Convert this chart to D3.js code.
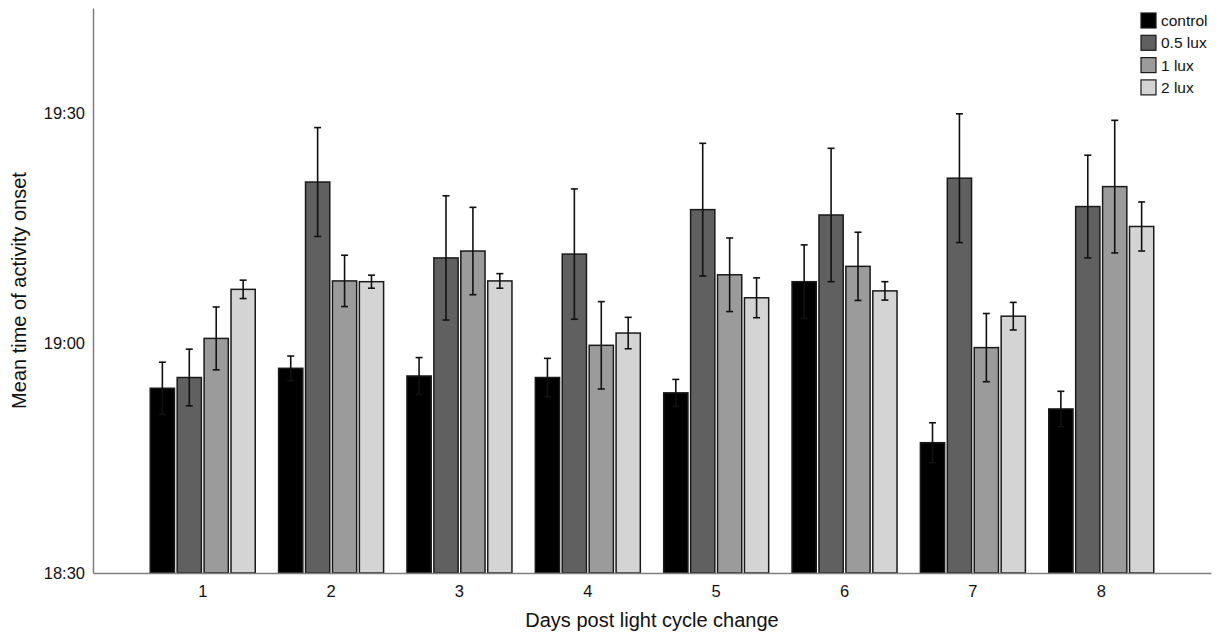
<!DOCTYPE html>
<html>
<head>
<meta charset="utf-8">
<script src="https://cdn.jsdelivr.net/npm/d3@7"></script>
<style>
  body { margin: 0; background: #fff; }
  svg { font-family: "Liberation Sans", Arial, sans-serif; }
</style>
</head>
<body>
<div id="chart"></div>
<script>
// days on the x axis
var days = ["1", "2", "3", "4", "5", "6", "7", "8"];
var groups = ["control", "0.5 lux", "1 lux", "2 lux"];

// mean onset, minutes after 18:00
var control = [54.1, 56.7, 55.7, 55.5, 53.5, 68.0, 47.0, 51.4];
var lux05   = [55.5, 81.0, 71.1, 71.6, 77.4, 76.7, 81.5, 77.8];
var lux1    = [60.6, 68.1, 72.0, 59.7, 68.9, 70.0, 59.4, 80.4];
var lux2    = [67.0, 68.0, 68.1, 61.3, 65.9, 66.8, 63.5, 75.2];

// error (minutes)
var controlErr = [3.4, 1.6, 2.4, 2.5, 1.75, 4.8, 2.6, 2.3];
var lux05Err   = [3.7, 7.1, 8.1, 8.5, 8.65, 8.7, 8.4, 6.7];
var lux1Err    = [4.1, 3.35, 5.7, 5.7, 4.8, 4.45, 4.45, 8.65];
var lux2Err    = [1.2, 0.85, 0.95, 2.05, 2.6, 1.2, 1.8, 3.2];

var yTicks = ["18:30", "19:00", "19:30"];

var means = [control, lux05, lux1, lux2];
var errs = [controlErr, lux05Err, lux1Err, lux2Err];
var colors = ["#000000", "#606060", "#9b9b9b", "#d4d4d4"];

var width = 1219, height = 639;
var plot = { left: 93, right: 1211, top: 8, bottom: 573 };

function toMin(s) {
    var p = s.split(":");
    return (+p[0] - 18) * 60 + (+p[1]);
}

var data = [];
days.forEach(function (d, i) {
    groups.forEach(function (g, j) {
        data.push({ day: d, group: g, value: means[j][i], err: errs[j][i], color: colors[j] });
    });
});

var svg = d3.select("#chart").append("svg")
    .attr("width", width)
    .attr("height", height);

var x0 = d3.scaleBand().domain(days).range([plot.left, plot.right])
    .paddingInner(0.182).paddingOuter(0.446);
var x1 = d3.scaleBand().domain(groups).range([0, x0.bandwidth()])
    .paddingInner(0.1);
var y = d3.scaleLinear().domain([30, 103.7]).range([plot.bottom, plot.top]);

// bars
svg.selectAll("rect.bar")
    .data(data)
    .enter().append("rect")
    .attr("class", "bar")
    .attr("x", function (d) { return x0(d.day) + x1(d.group); })
    .attr("y", function (d) { return y(d.value); })
    .attr("width", x1.bandwidth())
    .attr("height", function (d) { return y(30) - y(d.value); })
    .attr("fill", function (d) { return d.color; })
    .attr("stroke", "#1a1a1a")
    .attr("stroke-width", 1.5);

// error bars
var eb = svg.selectAll("g.err")
    .data(data)
    .enter().append("g")
    .attr("class", "err")
    .attr("stroke", "#111")
    .attr("stroke-width", 1.6);

function cx(d) { return x0(d.day) + x1(d.group) + x1.bandwidth() / 2; }

eb.append("line")
    .attr("x1", cx)
    .attr("x2", cx)
    .attr("y1", function (d) { return y(d.value - d.err); })
    .attr("y2", function (d) { return y(d.value + d.err); });

[1, -1].forEach(function (s) {
    eb.append("line")
        .attr("x1", function (d) { return cx(d) - 3.5; })
        .attr("x2", function (d) { return cx(d) + 3.5; })
        .attr("y1", function (d) { return y(d.value + s * d.err); })
        .attr("y2", function (d) { return y(d.value + s * d.err); });
});

// axes
var xAxis = svg.append("g")
    .attr("transform", "translate(0," + plot.bottom + ")")
    .call(d3.axisBottom(x0).tickSize(0).tickPadding(12));
xAxis.select(".domain").attr("stroke", "#7f7f7f").attr("stroke-width", 1.5);
xAxis.selectAll("text").attr("font-size", "16.5px").attr("fill", "#111");

var yAxis = svg.append("g")
    .attr("transform", "translate(" + plot.left + ",0)")
    .call(d3.axisLeft(y)
        .tickValues(yTicks.map(toMin))
        .tickFormat(function (v, i) { return yTicks[i]; })
        .tickSize(0).tickPadding(8));
yAxis.select(".domain").attr("stroke", "#7f7f7f").attr("stroke-width", 1.5);
yAxis.selectAll("text").attr("font-size", "16.5px").attr("fill", "#111");

// axis titles
svg.append("text")
    .attr("x", (plot.left + plot.right) / 2)
    .attr("y", 627)
    .attr("text-anchor", "middle")
    .attr("font-size", "20px")
    .attr("fill", "#111")
    .text("Days post light cycle change");

svg.append("text")
    .attr("transform", "translate(26," + (plot.top + plot.bottom) / 2 + ") rotate(-90)")
    .attr("text-anchor", "middle")
    .attr("font-size", "20px")
    .attr("fill", "#111")
    .text("Mean time of activity onset");

// legend
var legend = svg.selectAll("g.legend")
    .data(groups)
    .enter().append("g")
    .attr("class", "legend")
    .attr("transform", function (d, i) { return "translate(1141," + (13 + i * 22.3) + ")"; });

legend.append("rect")
    .attr("width", 15)
    .attr("height", 15)
    .attr("fill", function (d, i) { return colors[i]; })
    .attr("stroke", "#1a1a1a")
    .attr("stroke-width", 1.2);

legend.append("text")
    .attr("x", 20)
    .attr("y", 13)
    .attr("font-size", "15.5px")
    .attr("fill", "#111")
    .text(function (d) { return d; });
</script>
</body>
</html>
